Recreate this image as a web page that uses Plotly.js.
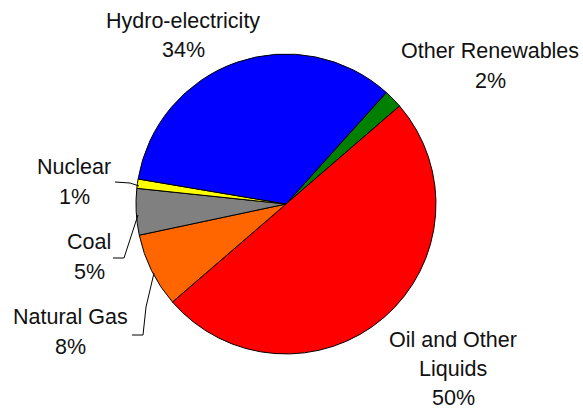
<!DOCTYPE html>
<html>
<head>
<meta charset="utf-8">
<script src="https://cdn.plot.ly/plotly-3.0.1.min.js"></script>
<style>html,body{margin:0;padding:0;background:#fff;}#chart{width:583px;height:409px;}</style>
</head>
<body>
<div id="chart"></div>
<script>
// Data (clockwise order starting at the green slice)
const categories = ["Other Renewables", "Oil and Other Liquids", "Natural Gas", "Coal", "Nuclear", "Hydro-electricity"];
const shares = [2, 50, 8, 5, 1, 34];
const sliceColors = ["#008000", "#ff0000", "#ff6600", "#808080", "#ffff00", "#0000ff"];
const labelLines = [["Other Renewables"], ["Oil and Other", "Liquids"], ["Natural Gas"], ["Coal"], ["Nuclear"], ["Hydro-electricity"]];

const W = 583, H = 409;
const px = x => x / W;
const py = y => 1 - y / H;

// label placement (pixel centres of first line of each block)
const labelPos = [
  {x: 490, y: 51, gap: 30},
  {x: 453, y: 340, gap: 29},
  {x: 70, y: 317, gap: 30},
  {x: 89, y: 242, gap: 30},
  {x: 74, y: 167, gap: 30},
  {x: 183, y: 21, gap: 29}
];
const font = {family: "Liberation Sans, Arial, sans-serif", size: 21.5, color: "#111"};

const annotations = [];
categories.forEach((c, i) => {
  const lines = labelLines[i].concat([shares[i] + "%"]);
  lines.forEach((t, k) => {
    annotations.push({
      xref: "paper", yref: "paper",
      x: px(labelPos[i].x), y: py(labelPos[i].y + k * labelPos[i].gap),
      text: t, showarrow: false, xanchor: "center", yanchor: "middle",
      font: font
    });
  });
});

// leader lines (pixel paths)
const leaders = [
  [[115, 182], [130, 183], [139, 186]],
  [[113, 258], [124, 258], [138, 215]],
  [[132, 335], [143, 335], [146, 307], [154, 273]]
];
const shapes = leaders.map(pts => ({
  type: "path", xref: "paper", yref: "paper",
  path: pts.map((p, j) => (j ? "L" : "M") + px(p[0]) + "," + py(p[1])).join(" "),
  line: {color: "#000", width: 1}
}));

const trace = {
  type: "pie",
  labels: categories,
  values: shares,
  sort: false,
  direction: "clockwise",
  rotation: 42,
  marker: {colors: sliceColors, line: {color: "#000", width: 1}},
  textinfo: "none",
  hoverinfo: "label+percent",
  domain: {x: [136 / W, 436 / W], y: [1 - 354 / H, 1 - 54 / H]},
  showlegend: false
};

Plotly.newPlot("chart", [trace], {
  width: W, height: H,
  margin: {l: 0, r: 0, t: 0, b: 0},
  paper_bgcolor: "#fff",
  showlegend: false,
  annotations: annotations,
  shapes: shapes
}, {displayModeBar: false, staticPlot: true});
</script>
</body>
</html>
